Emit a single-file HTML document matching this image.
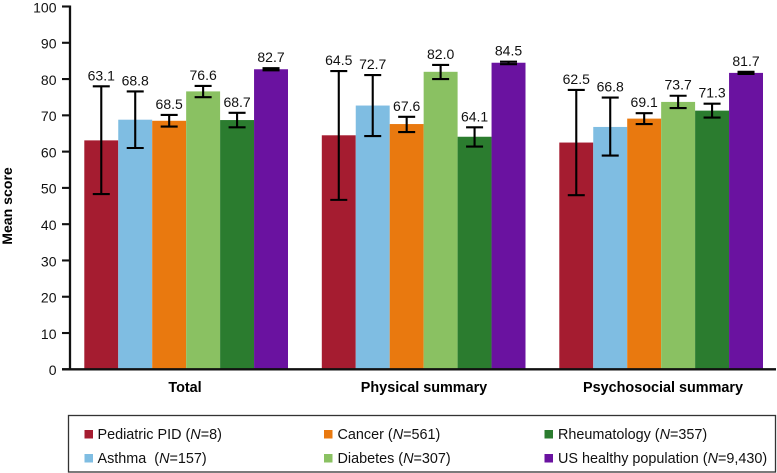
<!DOCTYPE html>
<html lang="en">
<head>
<meta charset="utf-8">
<title>Mean score chart</title>
<style>
html,body{margin:0;padding:0;background:#fff;}
body{width:777px;height:473px;overflow:hidden;}
svg{display:block;}
text{font-family:"Liberation Sans",sans-serif;fill:#111;font-size:14px;}
.legend-text{font-size:14.4px;}
.bold{font-weight:bold;fill:#000;font-size:14.4px;}
</style>
</head>
<body>
<svg id="chart" width="777" height="473" viewBox="0 0 777 473" xmlns="http://www.w3.org/2000/svg">
  <g id="bars"></g>
  <g id="errors"></g>
  <g id="labels"></g>
  <g id="axes"></g>
  <text class="bold" x="12" y="206" text-anchor="middle" transform="rotate(-90 12 206)" style="font-size:14.1px">Mean score</text>
  <g>
    <rect x="68.5" y="415.5" width="707" height="56.5" fill="none" stroke="#333" stroke-width="1.3"/>
    <g>
      <rect x="84.5" y="430" width="8.5" height="8.5" fill="#A51C30"/>
      <text class="legend-text" x="97.5" y="439">Pediatric PID (<tspan font-style="italic">N</tspan>=8)</text>
    </g>
    <g>
      <rect x="84.5" y="454" width="8.5" height="8.5" fill="#7FBDE2"/>
      <text class="legend-text" x="97.5" y="463" xml:space="preserve">Asthma  (<tspan font-style="italic">N</tspan>=157)</text>
    </g>
    <g>
      <rect x="324" y="430" width="8.5" height="8.5" fill="#E9790F"/>
      <text class="legend-text" x="337.5" y="439">Cancer (<tspan font-style="italic">N</tspan>=561)</text>
    </g>
    <g>
      <rect x="324" y="454" width="8.5" height="8.5" fill="#8AC162"/>
      <text class="legend-text" x="337.5" y="463">Diabetes (<tspan font-style="italic">N</tspan>=307)</text>
    </g>
    <g>
      <rect x="544.5" y="430" width="8.5" height="8.5" fill="#2B7C2F"/>
      <text class="legend-text" x="558" y="439">Rheumatology (<tspan font-style="italic">N</tspan>=357)</text>
    </g>
    <g>
      <rect x="544.5" y="454" width="8.5" height="8.5" fill="#6A12A0"/>
      <text class="legend-text" x="558" y="463">US healthy population (<tspan font-style="italic">N</tspan>=9,430)</text>
    </g>
  </g>
</svg>
<script>
const categories = ['Total', 'Physical summary', 'Psychosocial summary'];
const seriesNames = ['Pediatric PID', 'Asthma', 'Cancer', 'Diabetes', 'Rheumatology', 'US healthy population'];
const seriesColors = ['#A51C30', '#7FBDE2', '#E9790F', '#8AC162', '#2B7C2F', '#6A12A0'];
const pediatricValues = [63.1, 64.5, 62.5];
const asthmaValues = [68.8, 72.7, 66.8];
const cancerValues = [68.5, 67.6, 69.1];
const diabetesValues = [76.6, 82.0, 73.7];
const rheumatologyValues = [68.7, 64.1, 71.3];
const usHealthyValues = [82.7, 84.5, 81.7];
const pediatricErrHigh = [78.0, 82.2, 77.0];
const pediatricErrLow = [48.3, 46.7, 48.0];
const asthmaErrHigh = [76.6, 81.1, 74.9];
const asthmaErrLow = [61.0, 64.3, 58.9];
const cancerErrHigh = [70.1, 69.6, 70.6];
const cancerErrLow = [66.9, 65.4, 67.6];
const diabetesErrHigh = [78.1, 83.9, 75.4];
const diabetesErrLow = [75.0, 80.0, 72.0];
const rheumatologyErrHigh = [70.7, 66.7, 73.2];
const rheumatologyErrLow = [66.7, 61.4, 69.4];
const usHealthyErrHigh = [83.0, 84.8, 82.0];
const usHealthyErrLow = [82.4, 84.1, 81.4];
const yTicks = [0, 10, 20, 30, 40, 50, 60, 70, 80, 90, 100];

const seriesValues = [pediatricValues, asthmaValues, cancerValues, diabetesValues, rheumatologyValues, usHealthyValues];
const seriesHigh = [pediatricErrHigh, asthmaErrHigh, cancerErrHigh, diabetesErrHigh, rheumatologyErrHigh, usHealthyErrHigh];
const seriesLow = [pediatricErrLow, asthmaErrLow, cancerErrLow, diabetesErrLow, rheumatologyErrLow, usHealthyErrLow];

const NS = 'http://www.w3.org/2000/svg';
const y0 = 369.3, pxPerUnit = 3.628;
const groupStart = 84.3, groupPitch = 237.5, barWidth = 33.95;
function yScale(v) { return y0 - v * pxPerUnit; }
function groupX(g) { return groupStart + g * groupPitch; }
function barX(g, s) { return groupX(g) + s * barWidth; }
function categoryLabelX(g) { return 185 + g * 239; }
function make(tag, attrs, parent) {
  const el = document.createElementNS(NS, tag);
  for (const k in attrs) el.setAttribute(k, attrs[k]);
  parent.appendChild(el);
  return el;
}
function slug(t) { return t.toLowerCase().replace(/[^a-z0-9]+/g, '-'); }

const barsG = document.getElementById('bars');
const errorsG = document.getElementById('errors');
const labelsG = document.getElementById('labels');
const axesG = document.getElementById('axes');

categories.forEach(function (cat, g) {
  seriesNames.forEach(function (name, s) {
    const v = seriesValues[s][g];
    const x = barX(g, s);
    const cx = x + barWidth / 2;
    const bar = make('rect', { x: x, y: yScale(v), width: barWidth, height: y0 - yScale(v), fill: seriesColors[s] }, barsG);
    
    

    const hi = yScale(seriesHigh[s][g]);
    const lo = yScale(seriesLow[s][g]);
    const err = make('path', {
      d: 'M' + cx + ' ' + hi + 'V' + lo + 'M' + (cx - 8.5) + ' ' + hi + 'H' + (cx + 8.5) + 'M' + (cx - 8.5) + ' ' + lo + 'H' + (cx + 8.5),
      fill: 'none', stroke: '#000', 'stroke-width': 2.1
    }, errorsG);
    
    

    const label = make('text', { x: cx, y: hi - 6, 'text-anchor': 'middle' }, labelsG);
    label.textContent = v.toFixed(1);
    
    
  });
  const catLabel = make('text', { x: categoryLabelX(g), y: 392, 'text-anchor': 'middle', class: 'bold' }, axesG);
  catLabel.textContent = cat;
  
  
});

const yAxis = make('line', { x1: 70, x2: 70, y1: yScale(100) - 1, y2: y0 + 1, stroke: '#111', 'stroke-width': 2.3 }, axesG);


const xAxis = make('line', { x1: 62, x2: 776, y1: y0, y2: y0, stroke: '#111', 'stroke-width': 2.3 }, axesG);



yTicks.forEach(function (t) {
  const y = yScale(t);
  const tick = make('line', { x1: 62, x2: 70, y1: y, y2: y, stroke: '#111', 'stroke-width': 2.1 }, axesG);
  
  
  const lab = make('text', { x: 56.5, y: y + 5.8, 'text-anchor': 'end' }, axesG);
  lab.textContent = String(t);
  
  
});
</script>
</body>
</html>
